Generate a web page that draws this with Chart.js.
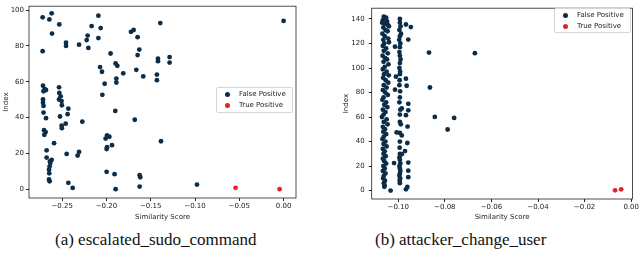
<!DOCTYPE html>
<html>
<head>
<meta charset="utf-8">
<script src="https://cdn.jsdelivr.net/npm/chart.js@4"></script>
<style>
  html,body{margin:0;padding:0;background:#fff;}
  body{width:640px;height:260px;position:relative;overflow:hidden;}
  .pane{position:absolute;top:0;width:320px;height:222px;}
  .legend{position:absolute;background:rgba(255,255,255,0.85);border:1px solid #d6d6d6;border-radius:2px;
    font:7px "DejaVu Sans",sans-serif;color:#222;box-sizing:border-box;}
  .legend div{position:relative;height:11px;line-height:11px;padding-left:22px;white-space:nowrap;}
  .legend i{position:absolute;left:8px;top:3px;width:5px;height:5px;border-radius:50%;}
  .cap{position:absolute;top:230px;font:17px "Liberation Serif","DejaVu Serif",serif;color:#111;white-space:nowrap;}
</style>
</head>
<body>
<div class="pane" style="left:0"><canvas id="chartA" width="320" height="222"></canvas></div>
<div class="pane" style="left:320px"><canvas id="chartB" width="320" height="222"></canvas></div>

<div class="legend" style="left:216px;top:87px;width:77px;height:26px;padding-top:1px">
  <div><i style="background:#0c2d48"></i>False Positive</div>
  <div><i style="background:#e3232a"></i>True Positive</div>
</div>
<div class="legend" style="left:554px;top:8px;width:77px;height:25px;padding-top:1px">
  <div><i style="background:#0c2d48"></i>False Positive</div>
  <div><i style="background:#e3232a"></i>True Positive</div>
</div>

<div class="cap" style="left:55px">(a) escalated_sudo_command</div>
<div class="cap" style="left:375px">(b) attacker_change_user</div>

<script>
// ---- data: (a) escalated_sudo_command ----
const fpA = [
  [-0.272,96.0],[-0.2644,94.8],[-0.2618,98.2],[-0.2532,92.0],[-0.2614,86.9],[-0.2456,81.8],[-0.2456,80.0],
  [-0.2309,80.7],[-0.272,77.1],[-0.2091,96.9],[-0.2167,91.1],[-0.2065,90.0],[-0.2212,85.8],[-0.2223,83.3],
  [-0.2091,84.4],[-0.2204,78.9],[-0.1953,75.8],[-0.1896,70.2],[-0.1877,68.9],[-0.2072,68.2],[-0.205,65.6],
  [-0.1810,64.7],[-0.1888,61.8],[-0.1888,59.6],[-0.202,58.9],[-0.2046,52.7],[-0.19,43.7],[-0.2716,57.8],
  [-0.2697,55.9],[-0.2682,55.4],[-0.271,54.7],[-0.2716,50.1],[-0.2716,48.3],[-0.271,46.5],[-0.271,42.8],
  [-0.2682,39.7],[-0.2535,56.9],[-0.2532,53.8],[-0.2517,51.9],[-0.2535,50.1],[-0.2506,49.2],[-0.2503,46.9],
  [-0.243,45.0],[-0.2438,41.9],[-0.2524,40.6],[-0.2272,37.7],[-0.246,36.6],[-0.2506,35.5],[-0.2503,34.1],
  [-0.2704,33.0],[-0.2686,31.9],[-0.2701,30.4],[-0.2591,25.7],[-0.2675,21.7],[-0.2449,19.7],[-0.2325,18.8],
  [-0.2309,20.8],[-0.2675,17.7],[-0.2618,16.4],[-0.2633,14.6],[-0.2641,12.8],[-0.2648,10.9],[-0.2645,8.9],
  [-0.2638,15.5],[-0.2648,5.5],[-0.2641,4.4],[-0.243,3.6],[-0.2381,0.7],[-0.1993,30.1],[-0.1967,29.3],
  [-0.2009,28.3],[-0.1937,24.6],[-0.1993,23.5],[-0.1998,22.4],[-0.1998,9.7],[-0.1908,8.4],[-0.1896,0.0],
  [-0.1392,92.8],[0.0,94.0],[-0.1723,87.9],[-0.1693,88.9],[-0.1648,84.9],[-0.1629,78.0],[-0.1648,74.9],
  [-0.1418,72.9],[-0.1418,71.5],[-0.1287,73.8],[-0.1287,70.7],[-0.1663,66.7],[-0.1584,63.0],[-0.1430,64.0],
  [-0.1430,60.9],[-0.168,38.8],[-0.1384,26.8],[-0.1625,7.8],[-0.1618,6.7],[-0.1625,1.5],[-0.0978,2.6]
];
const tpA = [[-0.0542,0.8],[-0.0045,0]];
const xTicksA = [-0.25,-0.20,-0.15,-0.10,-0.05,0.00];
const yTicksA = [0,20,40,60,80,100];

// ---- data: (b) attacker_change_user ----
const fpB = [
  // main column
  [-0.1062,142],[-0.1052,141],[-0.1066,139],[-0.1048,138],[-0.1069,137],[-0.1060,136],[-0.1044,135],[-0.1040,134],
  [-0.1064,133],[-0.1055,131],[-0.1046,130],[-0.1068,128],[-0.1058,126],[-0.1043,124],[-0.1064,123],[-0.1040,121],
  [-0.1060,120],[-0.1066,118],[-0.1052,116],[-0.1062,114],[-0.1045,112],[-0.1067,110],[-0.1056,108],[-0.1048,107],
  [-0.1063,105],[-0.1042,103],[-0.1058,101],[-0.1066,99],[-0.1050,97],[-0.1061,95],[-0.1041,94],[-0.1065,92],
  [-0.1054,90],[-0.1043,88],[-0.1062,86],[-0.1050,84],[-0.1066,82],[-0.1056,80],[-0.1045,78],[-0.1063,76],
  [-0.1068,74],[-0.1052,72],[-0.1060,70],[-0.1047,68],[-0.1066,66],[-0.1055,64],[-0.1063,62],[-0.1070,60],
  [-0.1050,58],[-0.1062,56],[-0.1046,54],[-0.1066,52],[-0.1057,50],[-0.1064,48],[-0.1052,46],[-0.1062,44],
  [-0.1068,42],[-0.1055,40],[-0.1063,38],[-0.1050,36],[-0.1066,34],[-0.1058,32],[-0.1063,30],[-0.1054,28],
  [-0.1066,26],[-0.1060,24],[-0.1052,22],[-0.1064,20],[-0.1058,18],[-0.1066,16],[-0.1055,14],[-0.1062,12],
  [-0.1065,10],[-0.1057,8],[-0.1062,6],[-0.1058,4],[-0.1060,3],[-0.1033,0],
  // second column
  [-0.0993,140],[-0.0993,137],[-0.0990,134],[-0.0995,131],[-0.0988,128],[-0.0993,126],[-0.0996,123],[-0.0991,120],
  [-0.0993,117],[-0.0995,113],[-0.0993,110],[-0.0990,107],[-0.0993,104],[-0.0995,100],[-0.0992,97],[-0.0993,95],
  [-0.0994,90],[-0.0995,86],[-0.0992,81],[-0.0993,76],[-0.0995,72],[-0.0991,66],[-0.0985,67],[-0.0993,62],
  [-0.0993,56],[-0.0989,54],[-0.0993,47],[-0.0985,45],[-0.0993,40],[-0.0994,35],[-0.0993,30],[-0.0995,27],
  [-0.0993,25],[-0.0991,22],[-0.0995,20],[-0.0993,18],[-0.0991,16],[-0.0993,14],[-0.0995,12],[-0.0992,10],
  [-0.0994,8],[-0.0993,6],
  // right of second column
  [-0.0967,135.5],[-0.0946,133.4],[-0.0957,123.2],[-0.0967,91.3],[-0.0964,85.5],[-0.0957,70.8],[-0.0957,65.5],
  [-0.0967,61.5],[-0.0960,52.2],[-0.0961,38.8],[-0.0971,32.2],[-0.0985,29.6],[-0.0957,22.8],[-0.0957,16.2],
  [-0.0957,10.9],[-0.0961,2.9],[-0.0967,1],
  [-0.1007,47.4],[-0.1014,117.4],[-0.1010,92.9],[-0.1014,82.3],[-0.1018,22.4],
  // outliers
  [-0.0868,112.6],[-0.0671,112.1],[-0.0864,84.1],[-0.0843,60.1],[-0.0788,49.8],[-0.0760,59.3]
];
const tpB = [[-0.0069,0.2],[-0.0043,1.0]];
const xTicksB = [-0.10,-0.08,-0.06,-0.04,-0.02,0.00];
const yTicksB = [0,20,40,60,80,100,120,140];

const BLUE = '#0c2d48', RED = '#e3232a';
const FONT = {family:'"DejaVu Sans", sans-serif', size:7};
const pts = (arr)=>arr.map(p=>({x:p[0], y:p[1]}));
const fmt = (v,d)=>{ const s = Math.abs(v).toFixed(d); return v < -1e-9 ? '\u2212'+s : s; };

// matplotlib-like frame round the plot area
const frame = {
  id:'frame',
  afterDraw(c){
    const a = c.chartArea, g = c.ctx;
    g.save(); g.strokeStyle='#222'; g.lineWidth=0.8;
    g.strokeRect(a.left, a.top, a.right-a.left, a.bottom-a.top);
    g.restore();
  }
};

function make(id, fp, tp, o){
  return new Chart(document.getElementById(id), {
    type:'scatter',
    data:{datasets:[
      {label:'False Positive', data:pts(fp), backgroundColor:BLUE, borderColor:BLUE, pointRadius:2.4, borderWidth:0},
      {label:'True Positive', data:pts(tp), backgroundColor:RED, borderColor:RED, pointRadius:2.4, borderWidth:0}
    ]},
    options:{
      responsive:false, animation:false, events:[],
      layout:{padding:o.pad},
      plugins:{legend:{display:false}, tooltip:{enabled:false}},
      scales:{
        x:{
          type:'linear', min:o.xmin, max:o.xmax,
          afterBuildTicks:(s)=>{ s.ticks = o.xt.map(v=>({value:v})); },
          afterFit:(s)=>{ s.height = o.xh; },
          ticks:{font:FONT, color:'#222', padding:1, maxRotation:0, callback:(v)=>fmt(v,2)},
          grid:{display:true, drawOnChartArea:false, drawTicks:true, tickLength:3, color:'#222'},
          border:{display:false},
          title:{display:true, text:'Similarity Score', font:FONT, color:'#222', padding:{top:0,bottom:1}}
        },
        y:{
          type:'linear', min:o.ymin, max:o.ymax,
          afterBuildTicks:(s)=>{ s.ticks = o.yt.map(v=>({value:v})); },
          afterFit:(s)=>{ s.width = o.yw; },
          ticks:{font:FONT, color:'#222', padding:o.ytp, callback:(v)=>String(v)},
          grid:{display:true, drawOnChartArea:false, drawTicks:true, tickLength:3, color:'#222'},
          border:{display:false},
          title:{display:true, text:'Index', font:FONT, color:'#222', padding:{top:2,bottom:0}}
        }
      }
    },
    plugins:[frame]
  });
}

make('chartA', fpA, tpA, {
  pad:{left:0, right:24, top:2, bottom:0}, xh:24, yw:29, ytp:2,
  xmin:-0.2874, xmax:0.014, ymin:-4.9, ymax:102.2, xt:xTicksA, yt:yTicksA
});
make('chartB', fpB, tpB, {
  pad:{left:20, right:7, top:4, bottom:0}, xh:23, yw:31.7, ytp:4,
  xmin:-0.1114, xmax:0.0006, ymin:-6.9, ymax:148.8, xt:xTicksB, yt:yTicksB
});
</script>
</body>
</html>
